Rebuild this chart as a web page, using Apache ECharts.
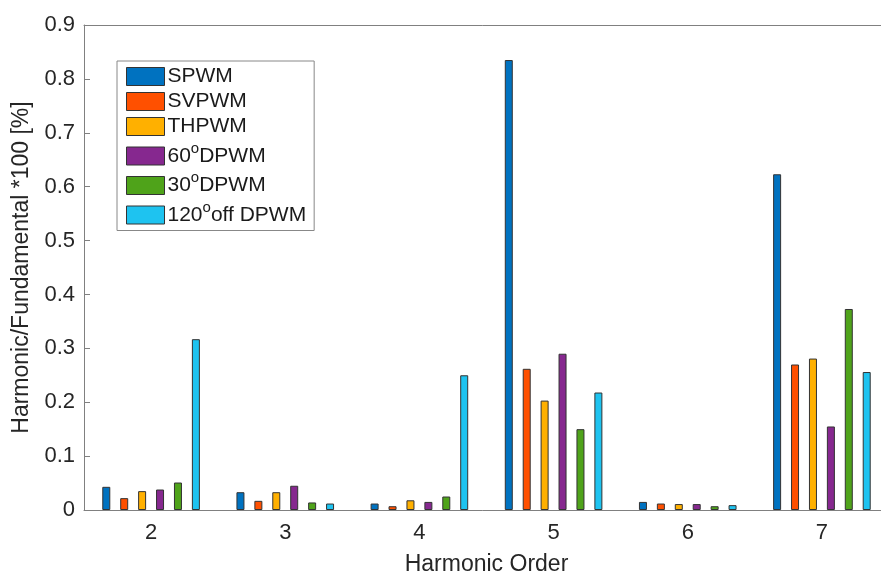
<!DOCTYPE html>
<html>
<head>
<meta charset="utf-8">
<script src="https://cdn.jsdelivr.net/npm/echarts@6/dist/echarts.min.js"></script>
<style>
  html, body { margin: 0; padding: 0; background: #fff; }
  #main { width: 881px; height: 572px; }
</style>
</head>
<body>
<div id="main"></div>
<script>
const categories = ['2', '3', '4', '5', '6', '7']
const seriesNames = ['SPWM', 'SVPWM', 'THPWM', '60DPWM', '30DPWM', '120off DPWM']
const legendLabels = ['SPWM', 'SVPWM', 'THPWM', '60{sup|o}DPWM', '30{sup|o}DPWM', '120{sup|o}off DPWM']
const colors = ['#0072C0', '#FF5000', '#FFB000', '#86288F', '#4FA31A', '#1EC3F0']

const spwm = [0.043, 0.033, 0.012, 0.835, 0.015, 0.623]
const svpwm = [0.022, 0.017, 0.007, 0.262, 0.012, 0.270]
const thpwm = [0.035, 0.033, 0.018, 0.203, 0.011, 0.281]
const dpwm60 = [0.038, 0.045, 0.015, 0.290, 0.011, 0.155]
const dpwm30 = [0.051, 0.014, 0.025, 0.150, 0.007, 0.373]
const dpwm120 = [0.317, 0.012, 0.250, 0.218, 0.009, 0.256]

const yTicks = [0, 0.1, 0.2, 0.3, 0.4, 0.5, 0.6, 0.7, 0.8, 0.9]

const allData = [spwm, svpwm, thpwm, dpwm60, dpwm30, dpwm120]
const font = 'Liberation Sans, Arial, sans-serif'

const chart = echarts.init(document.getElementById('main'))
const option = {
    animation: false,
    color: colors,
    // plot runs past the right edge of the picture (cropped like the original)
    grid: { left: 84, top: 25, bottom: 62, width: 805, outerBoundsMode: 'none' },
    legend: {
        orient: 'vertical',
        left: 117,
        top: 61,
        padding: [5, 8, 5, 9],
        icon: 'rect',
        itemWidth: 38,
        itemHeight: 18,
        itemGap: 4,
        backgroundColor: '#fff',
        borderColor: '#888',
        borderWidth: 1,
        itemStyle: { borderColor: '#333', borderWidth: 1 },
        data: seriesNames,
        formatter: name => legendLabels[seriesNames.indexOf(name)],
        textStyle: {
            fontFamily: font,
            fontSize: 21,
            color: '#1a1a1a',
            padding: [0, 0, 0, -2],
            rich: {
                sup: { fontFamily: font, fontSize: 15, verticalAlign: 'top', padding: [0, 0, 15, 0], color: '#1a1a1a' }
            }
        }
    },
    xAxis: [{
        type: 'category',
        data: categories,
        name: 'Harmonic Order',
        nameLocation: 'middle',
        nameGap: 43,
        nameTextStyle: { fontFamily: font, fontSize: 23, color: '#262626' },
        axisLine: { lineStyle: { color: '#808080', width: 1 } },
        axisTick: { alignWithLabel: true, inside: true, length: 6, lineStyle: { color: '#808080' } },
        axisLabel: { fontFamily: font, fontSize: 22, color: '#262626', margin: 12 }
    }, {
        type: 'category',
        data: categories,
        position: 'top',
        axisLine: { lineStyle: { color: '#808080', width: 1 } },
        axisTick: { alignWithLabel: true, inside: true, length: 6, lineStyle: { color: '#808080' } },
        axisLabel: { show: false }
    }],
    yAxis: {
        type: 'value',
        min: 0,
        max: 0.9,
        interval: 0.1,
        name: 'Harmonic/Fundamental *100 [%]',
        nameLocation: 'middle',
        nameGap: 50,
        nameTextStyle: { fontFamily: font, fontSize: 23, color: '#262626' },
        splitLine: { show: false },
        axisLine: { show: true, lineStyle: { color: '#808080', width: 1 } },
        axisTick: { show: true, inside: true, length: 6, lineStyle: { color: '#808080' } },
        axisLabel: {
            fontFamily: font, fontSize: 22, color: '#262626', margin: 9,
            formatter: v => yTicks.includes(Math.round(v * 10) / 10) ? String(Math.round(v * 10) / 10) : ''
        }
    },
    series: seriesNames.map((name, i) => ({
        name: name,
        type: 'bar',
        data: allData[i],
        barWidth: 8,
        barGap: '124%',
        itemStyle: { color: colors[i], borderColor: '#333', borderWidth: 1 }
    }))
}
chart.setOption(option)
window.addEventListener('resize', () => {
    chart.resize()
})
</script>
</body>
</html>
